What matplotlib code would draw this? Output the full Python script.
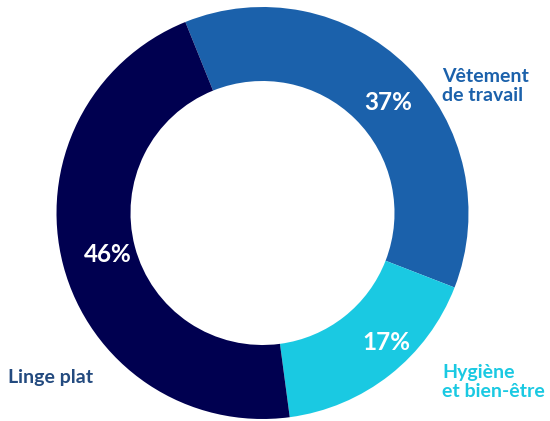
import matplotlib
matplotlib.use("Agg")
import matplotlib.pyplot as plt

categories = ["Vêtement\nde travail", "Hygiène\net bien-être", "Linge plat"]
values = [37, 17, 46]
colors = ["#1b61ab", "#1ac9e2", "#000050"]
label_colors = ["#1b61ab", "#1ac9e2", "#234a7f"]

W, H = 550, 421
fig = plt.figure(figsize=(W / 100, H / 100), dpi=100)
ax = fig.add_axes([0, 0, 1, 1])

cx, cy = 262.5, H - 213
R = 206
ax.pie(values, colors=colors, startangle=112, counterclock=False,
       center=(cx, cy), radius=R, frame=True,
       wedgeprops=dict(width=74, edgecolor="none", antialiased=True))
ax.set_xlim(0, W)
ax.set_ylim(0, H)
ax.set_aspect("equal")
ax.axis("off")

font = "Lato"
# percentage labels
pct_pos = [(388, H - 102), (386, H - 343), (108, H - 255)]
for (x, y), v in zip(pct_pos, values):
    ax.text(x, y, f"{v}%", color="white", fontsize=17.5, fontweight="bold",
            family=font, ha="center", va="center")

# category labels
cat_pos = [(442, H - 86), (442, H - 382), (8, H - 378)]
for (x, y), c, lc in zip(cat_pos, categories, label_colors):
    ax.text(x, y, c, color=lc, fontsize=14, fontweight="bold", family=font,
            ha="left", va="center", linespacing=1.1)

fig.savefig("out.png", dpi=100)
